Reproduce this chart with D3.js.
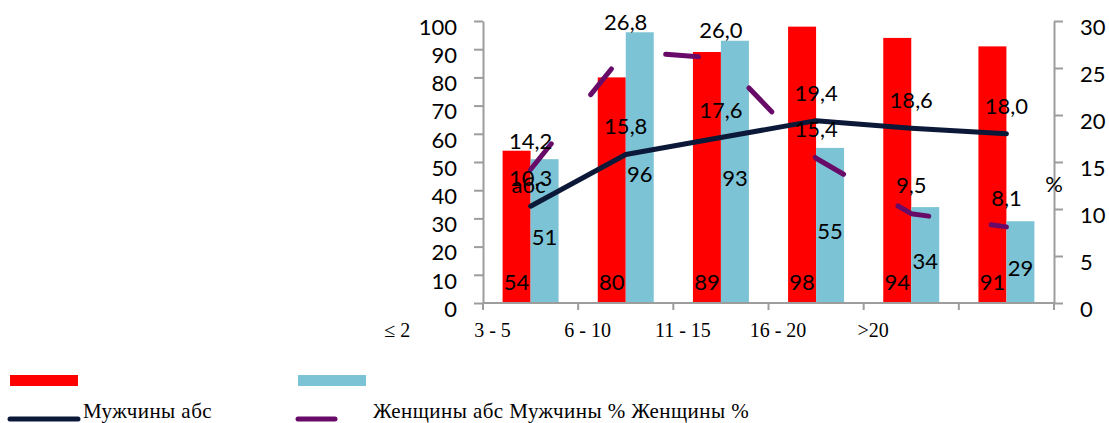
<!DOCTYPE html>
<html>
<head>
<meta charset="utf-8">
<script src="https://cdn.jsdelivr.net/npm/d3@7"></script>
<style>
  html, body { margin: 0; padding: 0; background: #fff; }
  svg { display: block; }
</style>
</head>
<body>
<svg id="chart" width="1109" height="423"></svg>
<script>
// Age-group categories (work experience, years)
const categories = ["≤ 2", "3 - 5", "6 - 10", "11 - 15", "16 - 20", ">20"];
// Absolute counts (left axis)
const menAbs   = [54, 80, 89, 98, 94, 91];
const womenAbs = [51, 96, 93, 55, 34, 29];
// Percentages (right axis)
const menPct   = [10.3, 15.8, 17.6, 19.4, 18.6, 18.0];
const womenPct = [14.2, 26.8, 26.0, 15.4, 9.5, 8.1];
// Axis ticks
const leftTicks  = [0, 10, 20, 30, 40, 50, 60, 70, 80, 90, 100];
const rightTicks = [0, 5, 10, 15, 20, 25, 30];
// Legend entries
const legendLabels = ["Мужчины абс", "Женщины абс Мужчины % Женщины %"];

const C = {
  red: "#ff0000",
  blue: "#7cc3d5",
  navy: "#0b1838",
  purple: "#680a68",
  axis: "#9d9d9d",
  text: "#000"
};
const numFont = "Lato, 'Open Sans', sans-serif";
const serif = "'Liberation Serif', 'DejaVu Serif', serif";
const fmt = v => d3.format(".1f")(v).replace(".", ",");

const svg = d3.select("#chart");
const plotLeft = 483, plotRight = 1054, plotTop = 21, plotBase = 303;

const x = d3.scaleBand().domain(categories).range([plotLeft, plotRight]).paddingInner(0).paddingOuter(0);
const xs = d3.scaleBand().domain(["m", "f"]).range([0, x.bandwidth()]).paddingInner(0).paddingOuter(0.7);
const yL = d3.scaleLinear().domain([0, 100]).range([plotBase, plotTop]);
const yR = d3.scaleLinear().domain([0, 30]).range([plotBase, plotTop]);
const cx = c => x(c) + x.bandwidth() / 2;

// Bars
const groups = svg.append("g").selectAll("g").data(categories).join("g")
  .attr("transform", c => `translate(${x(c)},0)`);
groups.append("rect")
  .attr("x", xs("m")).attr("width", xs.bandwidth())
  .attr("y", (c, i) => yL(menAbs[i])).attr("height", (c, i) => plotBase - yL(menAbs[i]))
  .attr("fill", C.red);
groups.append("rect")
  .attr("x", xs("f")).attr("width", xs.bandwidth())
  .attr("y", (c, i) => yL(womenAbs[i])).attr("height", (c, i) => plotBase - yL(womenAbs[i]))
  .attr("fill", C.blue);

// Left axis
const gL = svg.append("g").attr("transform", `translate(${plotLeft},0)`)
  .call(d3.axisLeft(yL).tickValues(leftTicks).tickSize(9).tickPadding(17).tickSizeOuter(0));
// Right axis
const gR = svg.append("g").attr("transform", `translate(${plotRight},0)`)
  .call(d3.axisRight(yR).tickValues(rightTicks).tickSize(9).tickPadding(17).tickSizeOuter(0));
[gL, gR].forEach(g => {
  g.select(".domain").attr("stroke", C.axis).attr("stroke-width", 2);
  g.selectAll(".tick line").attr("stroke", C.axis).attr("stroke-width", 2);
  g.selectAll(".tick text").attr("font-family", numFont).attr("font-size", 22)
    .attr("fill", C.text).attr("dy", "0.6em");
});

// Bottom axis: baseline with ticks at category boundaries
const bounds = categories.map(c => x(c)).concat([x.range()[1]]);
const gB = svg.append("g");
gB.append("line").attr("x1", plotLeft).attr("x2", plotRight).attr("y1", plotBase).attr("y2", plotBase)
  .attr("stroke", C.axis).attr("stroke-width", 2);
gB.selectAll("line.t").data(bounds).join("line").attr("class", "t")
  .attr("x1", d => d).attr("x2", d => d).attr("y1", plotBase).attr("y2", plotBase + 7)
  .attr("stroke", C.axis).attr("stroke-width", 2);
gB.selectAll("text").data(categories).join("text")
  .attr("x", c => cx(c) - 1.4 * x.step()).attr("y", 337)
  .attr("text-anchor", "middle").attr("font-family", serif).attr("font-size", 20)
  .text(c => c);

// Lines
const lineR = d3.line().x((d, i) => cx(categories[i])).y(d => yR(d));
svg.append("path").datum(menPct).attr("d", lineR)
  .attr("fill", "none").attr("stroke", C.navy).attr("stroke-width", 5)
  .attr("stroke-linecap", "round").attr("stroke-linejoin", "round");
svg.append("path").datum(womenPct).attr("d", lineR)
  .attr("fill", "none").attr("stroke", C.purple).attr("stroke-width", 5)
  .attr("stroke-linecap", "round").attr("stroke-linejoin", "round")
  .attr("stroke-dasharray", "33,63");

// Data labels
const labels = svg.append("g").attr("font-family", numFont).attr("font-size", 22)
  .attr("fill", C.text).attr("text-anchor", "middle");
labels.selectAll("text.mA").data(menAbs).join("text").attr("class", "mA")
  .attr("x", (d, i) => x(categories[i]) + xs("m") + xs.bandwidth() / 2)
  .attr("y", plotBase - 13).text(d => d);
labels.selectAll("text.fA").data(womenAbs).join("text").attr("class", "fA")
  .attr("x", (d, i) => x(categories[i]) + xs("f") + xs.bandwidth() / 2)
  .attr("y", d => (yL(d) + plotBase) / 2 + 14).text(d => d);
labels.selectAll("text.mP").data(menPct).join("text").attr("class", "mP")
  .attr("x", (d, i) => cx(categories[i])).attr("y", d => yR(d) - 20).text(fmt);
labels.selectAll("text.fP").data(womenPct).join("text").attr("class", "fP")
  .attr("x", (d, i) => cx(categories[i])).attr("y", d => yR(d) - 21).text(fmt);
labels.append("text").attr("x", cx(categories[0]) - 2).attr("y", yR(menPct[0]) - 13).text("абс");
labels.append("text").attr("x", plotRight).attr("y", 192).text("%");

// Legend
const lg = svg.append("g");
lg.append("rect").attr("x", 10).attr("y", 375).attr("width", 68).attr("height", 11).attr("fill", C.red);
lg.append("rect").attr("x", 298).attr("y", 375).attr("width", 68).attr("height", 11).attr("fill", C.blue);
lg.append("line").attr("x1", 10).attr("x2", 78).attr("y1", 419).attr("y2", 419)
  .attr("stroke", C.navy).attr("stroke-width", 5).attr("stroke-linecap", "round");
lg.append("line").attr("x1", 298).attr("x2", 335).attr("y1", 419).attr("y2", 419)
  .attr("stroke", C.purple).attr("stroke-width", 5).attr("stroke-linecap", "round");
lg.selectAll("text").data(legendLabels).join("text")
  .attr("x", (d, i) => i === 0 ? 83 : 373).attr("y", 418)
  .attr("font-family", serif).attr("font-size", 21).attr("letter-spacing", 0.45).text(d => d);
</script>
</body>
</html>
